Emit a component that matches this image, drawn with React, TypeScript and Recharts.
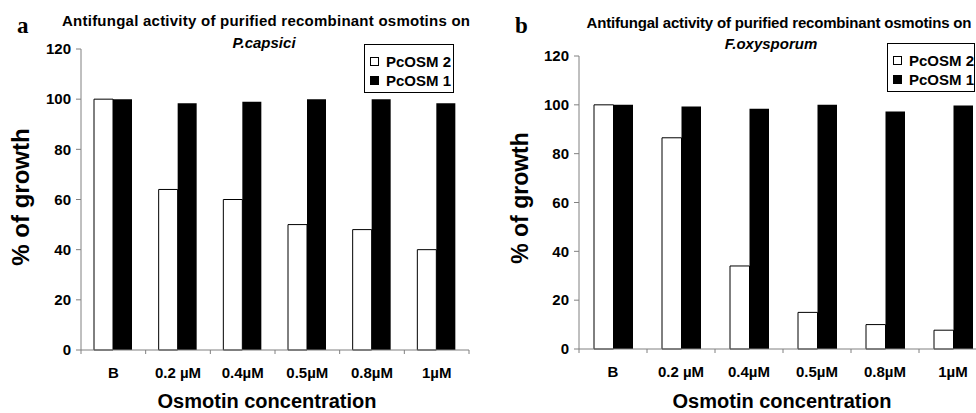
import React from 'react'
import { BarChart, Bar, XAxis, YAxis, Legend } from 'recharts'

const categories = ['B', '0.2 µM', '0.4µM', '0.5µM', '0.8µM', '1µM']
const capsiciOsm2 = [100, 64, 60, 50, 48, 40]
const capsiciOsm1 = [100, 98.4, 99, 100, 100, 98.4]
const oxysporumOsm2 = [100, 86.5, 34, 15, 10, 7.7]
const oxysporumOsm1 = [100, 99.3, 98.4, 100, 97.3, 99.7]
const yTicks = [0, 20, 40, 60, 80, 100, 120]
const seriesNames = ['PcOSM 2', 'PcOSM 1']

const FONT = '"Liberation Sans", Arial, sans-serif'
const SERIF = '"Liberation Serif", "Times New Roman", serif'
const AXIS_GRAY = '#808080'

function buildRows(osm2: number[], osm1: number[]) {
  return categories.map((name, i) => ({ name, osm2: osm2[i], osm1: osm1[i] }))
}

// category label plus small tick marks on the band edges (Excel style)
function CategoryTick(props: any) {
  const { x, y, payload, index } = props
  const half = payload?.offset ?? 0
  const last = index === categories.length - 1
  return (
    <g>
      <line x1={x - half} x2={x - half} y1={y} y2={y + 4} stroke={AXIS_GRAY} />
      {last && <line x1={x + half} x2={x + half} y1={y} y2={y + 4} stroke={AXIS_GRAY} />}
      <text x={x} y={y + 17} dy="0.71em" textAnchor="middle" fontFamily={FONT} fontWeight="bold" fontSize={15} fill="#000">
        {payload.value}
      </text>
    </g>
  )
}

function LegendBox({ payload, width }: { payload?: { value: string; color?: string }[]; width: number }) {
  const items = [...(payload || [])].sort((a, b) => seriesNames.indexOf(a.value) - seriesNames.indexOf(b.value))
  return (
    <div
      style={{
        border: '1px solid #000',
        background: '#fff',
        width,
        boxSizing: 'border-box',
        padding: '7px 0 2px 5px',
        fontFamily: FONT,
        fontWeight: 'bold',
        fontSize: 15,
        color: '#000',
      }}
    >
      {items.map((entry) => (
        <div key={entry.value} style={{ display: 'flex', alignItems: 'center', height: 19, lineHeight: '19px', whiteSpace: 'nowrap' }}>
          <span
            style={{
              display: 'inline-block',
              width: 9,
              height: 9,
              boxSizing: 'border-box',
              border: '1px solid #000',
              background: entry.color,
              marginRight: 7,
            }}
          />
          {entry.value}
        </div>
      ))}
    </div>
  )
}

interface PanelProps {
  osm2: number[]
  osm1: number[]
  width: number
  axisWidth: number
  margin: { top: number; right: number; bottom: number; left: number }
  barSize: number
  legendLeft: number
  legendTop: number
  legendWidth: number
}

function Panel({ osm2, osm1, width, axisWidth, margin, barSize, legendLeft, legendTop, legendWidth }: PanelProps) {
  const data = buildRows(osm2, osm1)
  return (
    <BarChart width={width} height={413} data={data} margin={margin} barGap={0} barSize={barSize}>
      <XAxis
        dataKey="name"
        height={1}
        axisLine={{ stroke: AXIS_GRAY }}
        tickLine={false}
        tickSize={0}
        tickMargin={0}
        interval={0}
        tick={<CategoryTick />}
      />
      <YAxis
        domain={[0, 120]}
        ticks={yTicks}
        interval={0}
        width={axisWidth}
        axisLine={{ stroke: AXIS_GRAY }}
        tickLine={{ stroke: AXIS_GRAY }}
        tickSize={5}
        tickMargin={5}
        tick={{ fontSize: 15, fontWeight: 'bold', fill: '#000', fontFamily: FONT }}
      />
      <Legend
        layout="vertical"
        align="center"
        verticalAlign="middle"
        wrapperStyle={{ left: legendLeft, top: legendTop, width: 'auto', height: 'auto' }}
        content={(props: any) => <LegendBox payload={props.payload} width={legendWidth} />}
      />
      <Bar dataKey="osm2" name={seriesNames[0]} fill="#fff" stroke="#000" strokeWidth={1} isAnimationActive={false} />
      <Bar dataKey="osm1" name={seriesNames[1]} fill="#000" isAnimationActive={false} />
    </BarChart>
  )
}

export default function App() {
  const textStyle = { fontFamily: FONT, fontWeight: 'bold' as const, fill: '#000' }
  return (
    <div style={{ position: 'absolute', left: 0, top: 0, width: 976, height: 413, overflow: 'hidden', background: '#fff' }}>
      <div style={{ position: 'absolute', left: 0, top: 0 }}>
        <Panel
          osm2={capsiciOsm2}
          osm1={capsiciOsm1}
          width={480}
          axisWidth={81}
          margin={{ top: 49, right: 11, bottom: 62, left: 0 }}
          barSize={19}
          legendLeft={364}
          legendTop={44}
          legendWidth={90}
        />
      </div>
      <div style={{ position: 'absolute', left: 500, top: 0 }}>
        <Panel
          osm2={oxysporumOsm2}
          osm1={oxysporumOsm1}
          width={500}
          axisWidth={79}
          margin={{ top: 56, right: 13, bottom: 63, left: 0 }}
          barSize={19.5}
          legendLeft={387}
          legendTop={43}
          legendWidth={88}
        />
      </div>
      <svg width={976} height={413} style={{ position: 'absolute', left: 0, top: 0, pointerEvents: 'none' }}>
        {/* panel a */}
        <text x={17} y={33} fontFamily={SERIF} fontWeight="bold" fontSize={23}>a</text>
        <text x={266} y={26} textAnchor="middle" fontSize={15} textLength={408} lengthAdjust="spacing" style={textStyle}>
          Antifungal activity of purified recombinant osmotins on
        </text>
        <text x={264} y={48} textAnchor="middle" fontSize={15} fontStyle="italic" style={textStyle}>P.capsici</text>
        <text transform="translate(29,197) rotate(-90)" textAnchor="middle" fontSize={24} style={textStyle}>% of growth</text>
        <text x={267} y={408} textAnchor="middle" fontSize={20} style={textStyle}>Osmotin concentration</text>

        {/* panel b */}
        <text x={515} y={33} fontFamily={SERIF} fontWeight="bold" fontSize={23}>b</text>
        <text x={779} y={28} textAnchor="middle" fontSize={15} textLength={385} lengthAdjust="spacing" style={textStyle}>
          Antifungal activity of purified recombinant osmotins  on
        </text>
        <text x={771} y={49} textAnchor="middle" fontSize={15} fontStyle="italic" style={textStyle}>F.oxysporum</text>
        <text transform="translate(528,198) rotate(-90)" textAnchor="middle" fontSize={23} style={textStyle}>% of growth</text>
        <text x={782} y={408} textAnchor="middle" fontSize={20} style={textStyle}>Osmotin concentration</text>
      </svg>
    </div>
  )
}
